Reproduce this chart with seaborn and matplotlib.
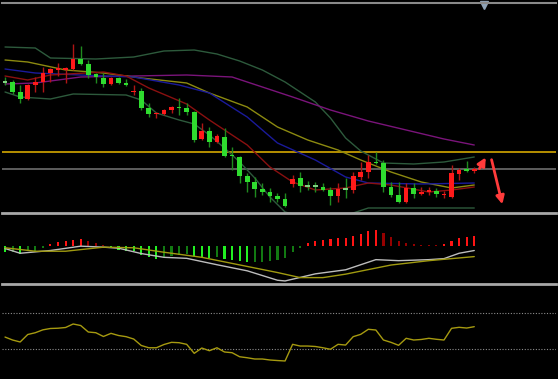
import numpy as np
import pandas as pd
import matplotlib
matplotlib.use('Agg')
import matplotlib.pyplot as plt
import seaborn as sns

# candles (price points)
opens  = [218,218,208,201,215,218,227,230,230,231,241,236,226,222,216,222,217,208,209,192,
          186,186,190,193,192,188,161,169,158,163,145,143,124,118,111,108,104,101,116,122,
          114,114,113,110,104,111,110,123,128,138,137,113,105,98,112,106,108,109,105,103,
          126,131,129]
closes = [218,208,201,215,218,227,231,232,232,241,236,225,223,216,222,217,215,209,192,186,
          187,190,193,192,188,160,169,158,164,144,144,124,118,111,108,104,101,94,121,114,
          114,114,110,104,111,111,124,128,138,137,113,105,98,112,106,108,110,106,106,127,
          130,129,131]
highs  = [223,220,215,216,223,233,232,237,233,256,254,240,227,227,223,223,221,215,212,197,
          188,191,194,202,197,189,177,173,166,172,153,144,127,123,117,112,107,107,125,128,
          119,118,117,113,117,122,128,138,145,148,140,118,118,117,117,113,113,112,109,135,
          132,139,133]
lows   = [215,206,197,200,208,208,218,224,217,230,235,222,217,213,215,216,214,205,190,183,
          182,185,187,185,185,158,160,153,157,143,130,117,108,103,105,98,98,93,113,108,
          110,108,109,95,98,102,107,120,122,136,108,103,97,97,102,105,105,103,102,102,
          120,128,127]

# moving averages / bands (bar index, value)
upper_idx = [0,4,6,12,17,21,25,28,31,34,37,41,43,45,47,50,54,58,62]
upper_val = [253,252,242,241,243,249,250,246,239,230,218,198,182,162,149,137,136,138,143]
lower_idx = [0,2,6,9,16,18,20,23,25,27,29,31,33,35,37,40,44,46,48,51,62]
lower_val = [208,203,201,206,205,200,187,180,176,165,152,138,122,103,88,82,82,87,92,92,92]
purple_idx = [0,4,10,17,24,30,34,38,43,48,53,58,62]
purple_val = [216,217,223,224,225,223,213,203,190,179,170,161,155]
olive_idx = [0,3,8,13,18,24,27,32,36,40,44,47,51,55,59,62]
olive_val = [240,238,230,227,222,217,207,193,173,160,150,140,128,118,112,115]
blue_idx = [0,4,10,17,23,27,32,36,41,45,48,55,62]
blue_val = [231,227,225,223,215,207,183,157,140,123,117,116,117]
red_idx = [0,3,6,13,16,19,24,27,32,35,38,41,45,48,51,56,59,62]
red_val = [224,220,225,228,224,212,196,180,155,133,118,110,112,117,115,108,110,113]

level_gold = 148
level_gray = 131

# MACD panel
macd_hist = [-5.7,-5.7,-7.3,-4.7,-4,-1.3,2.7,4.3,5.3,6.7,7.7,5.3,3.3,1,-1.3,-3,-4,-4.7,-8.3,-10.7,
             -12.3,-10,-9,-8,-7.3,-9,-10,-11.3,-10.7,-12.3,-13,-14.7,-15.7,-15.7,-15,-14.7,-13.5,-11.7,-5.7,-1.7,
             3.3,5.3,6.7,7,8.3,8.7,10.7,12,15,16,13.3,9.3,5.3,3.7,2.7,1.7,1.7,1.7,2.7,5.3,
             8.3,9.3,10.7]
macd_idx = [0,2,6,10,13,15,18,21,24,28,32,36,37,41,45,49,52,56,58,60,62]
macd_val = [-2,-6.7,-4,0.3,-0.7,-1.7,-7,-10.7,-11.7,-18,-24,-33.3,-34,-27,-23,-13,-14,-13,-12,-6.7,-4]
sig_idx = [0,4,8,13,17,21,26,30,36,39,42,45,51,56,62]
sig_val = [-1.3,-4.7,-4.7,-0.7,-1.3,-5.7,-10.7,-16.7,-25.7,-30.7,-30.7,-27.3,-18.3,-14,-10]

# RSI panel
rsi = [43.3,40,37.8,46.1,48.1,51.3,52.8,53.1,53.9,57.8,56.1,48.9,48.1,43.9,47.4,45,43.7,41.1,33.9,31.4,
       31.4,35,37.4,37,35.2,25.2,31.1,28.1,31.4,26.7,25.9,21.4,20.3,18.9,18.9,17.8,17.2,16.7,35.2,33.3,
       33.3,32.8,31.4,29.7,35.2,34.4,43.7,46.3,51.9,51.1,40,37.4,34.1,41.9,40,40.6,41.9,40.8,40,53,
       54.1,53.3,54.8]

# hand-drawn arrows at the right edge
arrow_up = [(62.5, 129), (63.7, 145)]
arrow_down = [(64.2, 143), (65.8, 93)]

sns.set_theme(style='dark', rc={'axes.facecolor': 'black', 'figure.facecolor': 'black',
                                'patch.edgecolor': 'none', 'patch.linewidth': 0})

W, H = 558, 379
fig = plt.figure(figsize=(W / 100, H / 100), dpi=100)
fig.patch.set_facecolor('black')

def frac(top, bottom):
    return [2 / W, 1 - bottom / H, 554 / W, (bottom - top) / H]

ax = fig.add_axes(frac(3, 213))
ax2 = fig.add_axes(frac(215, 284))
ax3 = fig.add_axes(frac(286, 378))

xlim = (-0.4, 72.8)
for a in (ax, ax2, ax3):
    a.set_facecolor('black')
    a.set_xlim(*xlim)
    a.set_xticks([])
    a.set_yticks([])
    for s in a.spines.values():
        s.set_visible(False)
ax.spines['top'].set_visible(True)
ax.spines['top'].set_color('#8a8a8a')
ax.spines['top'].set_linewidth(1.5)
for a in (ax, ax2):
    a.spines['bottom'].set_visible(True)
    a.spines['bottom'].set_color('#a8a8a8')
    a.spines['bottom'].set_linewidth(2)

# ---- main panel
df = pd.DataFrame({'o': opens, 'c': closes, 'h': highs, 'l': lows})
df['x'] = np.arange(len(df))
up = df['c'] > df['o']
dn = df['c'] < df['o']
dj = df['c'] == df['o']

ax.axhline(level_gold, color='#d4a800', lw=1.2, zorder=1)
ax.axhline(level_gray, color='#6e6e6e', lw=1.2, zorder=1)

lines = [(upper_idx, upper_val, '#2d5a3c'), (lower_idx, lower_val, '#2d5a3c'),
         (purple_idx, purple_val, '#7a147a'), (olive_idx, olive_val, '#8c8a10'),
         (blue_idx, blue_val, '#1a1a9a'), (red_idx, red_val, '#8a1010')]
for xi, yv, col in lines:
    sns.lineplot(x=xi, y=yv, ax=ax, color=col, lw=1.0, legend=False, zorder=2)

ax.vlines(df.x[up], df.l[up], df.h[up], color='#b01515', lw=1, zorder=3)
ax.vlines(df.x[dn], df.l[dn], df.h[dn], color='#1f8a1f', lw=1, zorder=3)
ax.vlines(df.x[dj], df.l[dj], df.h[dj], color='#1f8a1f', lw=1, zorder=3)
ax.bar(df.x[up], (df.c - df.o)[up], bottom=df.o[up], width=0.62, color='#ff1a1a',
       edgecolor='none', linewidth=0, zorder=4)
ax.bar(df.x[dn], (df.o - df.c)[dn], bottom=df.c[dn], width=0.62, color='#2fdc2f',
       edgecolor='none', linewidth=0, zorder=4)
ax.bar(df.x[dj], 1.5, bottom=df.o[dj] - 0.75, width=0.62, color='#7fd07f',
       edgecolor='none', linewidth=0, zorder=4)

for (x0, y0), (x1, y1) in (arrow_up, arrow_down):
    ax.annotate('', xy=(x1, y1), xytext=(x0, y0),
                arrowprops=dict(arrowstyle='-|>', color='#ff3b3b', lw=2, mutation_scale=12))
ax.plot([63.3], [295], marker='v', color='#8ea2b6', ms=6, clip_on=False)
ax.set_ylim(87, 297)

# ---- MACD panel
h = np.array(macd_hist)
prev = np.r_[0, h[:-1]]
grow = np.abs(h) > np.abs(prev)
hcol = np.where(h >= 0, np.where(grow, '#ff1414', '#960000'),
                np.where(grow, '#22f022', '#127a12'))
ax2.bar(df.x, h, width=0.28, color=hcol, edgecolor='none', linewidth=0, zorder=2)
sns.lineplot(x=macd_idx, y=macd_val, ax=ax2, color='#bdbdbd', lw=1.0, legend=False, zorder=3)
sns.lineplot(x=sig_idx, y=sig_val, ax=ax2, color='#a09a10', lw=1.0, legend=False, zorder=3)
ax2.set_ylim(-37, 31)

# ---- RSI panel
for lv in (70, 30):
    ax3.axhline(lv, color='#8c8c8c', lw=0.8, ls=(0, (1, 1.5)))
sns.lineplot(x=df.x, y=rsi, ax=ax3, color='#a69a10', lw=1.0, legend=False)
ax3.set_ylim(-2.2, 100)

for a in (ax, ax2, ax3):
    a.set_xlabel('')
    a.set_ylabel('')

fig.savefig('out.png', dpi=100, facecolor='black')
